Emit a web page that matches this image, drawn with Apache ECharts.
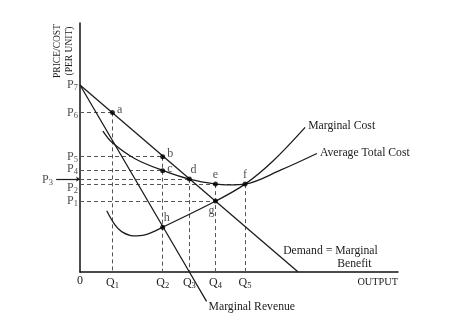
<!DOCTYPE html>
<html>
<head>
<meta charset="utf-8">
<script src="https://cdn.jsdelivr.net/npm/echarts@6/dist/echarts.min.js"></script>
<style>
html,body{margin:0;padding:0;background:#fff;}
#chart{width:455px;height:324px;}
</style>
</head>
<body>
<div id="chart"></div>
<script>
// Quantities Q1..Q5 (output units)
const qValues = [1.02, 2.60, 3.44, 4.26, 5.19];
const qNames = ['1', '2', '3', '4', '5'];
// Prices P1..P7
const pValues = [2.85, 3.53, 3.73, 4.07, 4.63, 6.41, 7.51];
const pNames = ['1', '2', '3', '4', '5', '6', '7'];
const hPrice = 1.80;

// Curves
const demandX = [0, 6.86];
const demandY = [7.51, 0];
const mrX = [0, 3.44, 3.98];
const mrY = [7.51, 0, -1.18];
const atcX = [0.72, 1.02, 1.73, 2.62, 3.44, 4.27, 4.72, 5.19, 6.32, 7.45];
const atcY = [5.66, 5.19, 4.55, 4.07, 3.73, 3.53, 3.50, 3.53, 4.10, 4.76];
const mcX = [0.84, 1.10, 1.31, 1.67, 2.04, 2.60, 4.27, 5.19, 6.07, 7.08];
const mcY = [2.46, 1.89, 1.62, 1.45, 1.49, 1.80, 2.85, 3.53, 4.46, 5.81];

// Labelled points
const pointNames = ['a', 'b', 'c', 'd', 'e', 'f', 'g', 'h'];
const pointQ = [qValues[0], qValues[1], qValues[1], qValues[2], qValues[3], qValues[4], qValues[3], qValues[1]];
const pointP = [pValues[5], pValues[4], pValues[3], pValues[2], pValues[1], pValues[1], pValues[0], hPrice];

const FONT = '"Liberation Serif", "DejaVu Serif", serif';
const INK = '#1c1c1c';
const zip = (xs, ys) => xs.map((x, i) => [x, ys[i]]);

const rich = {
  m: { fontSize: 12, fontFamily: FONT, color: INK },
  s: { fontSize: 8.5, fontFamily: FONT, color: INK, padding: [6, 0, 0, 0] }
};

// dashed guide segments
const pt = name => { const i = pointNames.indexOf(name); return [pointQ[i], pointP[i]]; };
const hGuides = ['a', 'b', 'c', 'd', 'f', 'g'];
const vGuides = ['a', 'b', 'd', 'e', 'f'];
const guideData = [];
hGuides.forEach(n => { const p = pt(n); guideData.push({ coords: [[0, p[1]], p] }); });
vGuides.forEach(n => { const p = pt(n); guideData.push({ coords: [p, [p[0], 0]] }); });

const pointLabelPos = {
  a: { position: 'right', offset: [0, -3] },
  b: { position: 'right', offset: [0, -3] },
  c: { position: 'right', offset: [0, -2] },
  d: { position: 'top', offset: [4, 1] },
  e: { position: 'top', offset: [0, 1] },
  f: { position: 'top', offset: [0, 1] },
  g: { position: 'bottom', offset: [-4, -1] },
  h: { position: 'top', offset: [4, 1] }
};

const priceLabelOffset = { '1': [0, 0], '2': [0, 4], '3': [-25, 1], '4': [0, -2], '5': [0, 0], '6': [0, 0], '7': [0, 0] };

const chart = echarts.init(document.getElementById('chart'));
const curveStyle = { color: INK, width: 1.3 };
const textStyle = { fontFamily: FONT, fontSize: 11.7, color: INK };

chart.setOption({
  animation: false,
  grid: { left: 80, top: 23, right: 57, bottom: 52 },
  xAxis: {
    type: 'value', min: 0, max: 10,
    axisLine: { lineStyle: { color: '#111', width: 1.5 } },
    axisTick: { show: false },
    splitLine: { show: false },
    axisLabel: {
      customValues: [0].concat(qValues),
      margin: 3,
      formatter: v => v === 0 ? '{m|0}' : '{m|Q}{s|' + qNames[qValues.indexOf(v)] + '}',
      rich: rich
    },
    name: 'OUTPUT',
    nameLocation: 'end',
    nameGap: 0,
    nameTextStyle: { fontFamily: FONT, fontSize: 10.3, color: INK, align: 'right', verticalAlign: 'top', padding: [5, 0, 0, 0] }
  },
  yAxis: {
    type: 'value', min: 0, max: 10,
    axisLine: { lineStyle: { color: '#111', width: 1.5 } },
    axisTick: { show: false },
    splitLine: { show: false },
    axisLabel: { show: false }
  },
  graphic: [{
    type: 'text', x: 63, y: 51, rotation: Math.PI / 2,
    style: { text: 'PRICE/COST\n(PER UNIT)', fontFamily: FONT, fontSize: 9.5, lineHeight: 12, align: 'center', verticalAlign: 'middle', fill: INK }
  }],
  series: [
    {
      type: 'lines', coordinateSystem: 'cartesian2d', polyline: false, silent: true,
      lineStyle: { color: '#555', width: 1, type: [4, 3], opacity: 1 },
      data: guideData, z: 1
    },
    {
      type: 'lines', coordinateSystem: 'cartesian2d', silent: true, clip: false,
      symbol: ['none', 'arrow'], symbolSize: 4,
      lineStyle: { color: INK, width: 1.2, opacity: 1 },
      data: [{ coords: [[-0.75, pValues[2]], [0, pValues[2]]] }], z: 2
    },
    {
      name: 'Demand', type: 'line', data: zip(demandX, demandY), showSymbol: false, lineStyle: curveStyle, z: 3,
      endLabel: {
        show: true, distance: 5, offset: [-20, -15], align: 'left',
        formatter: '{a|Demand = Marginal}\n{b|Benefit}',
        rich: {
          a: Object.assign({ lineHeight: 13 }, textStyle),
          b: Object.assign({ lineHeight: 13, padding: [0, 0, 0, 54] }, textStyle)
        }
      }
    },
    {
      name: 'Marginal Revenue', type: 'line', data: zip(mrX, mrY), showSymbol: false, lineStyle: curveStyle, clip: false, z: 3,
      endLabel: Object.assign({ show: true, distance: 2, offset: [0, 6], formatter: 'Marginal Revenue' }, textStyle)
    },
    {
      name: 'Average Total Cost', type: 'line', data: zip(atcX, atcY), smooth: 0.35, showSymbol: false, lineStyle: curveStyle, z: 3,
      endLabel: Object.assign({ show: true, distance: 3, offset: [0, -1], formatter: 'Average Total Cost' }, textStyle)
    },
    {
      name: 'Marginal Cost', type: 'line', data: zip(mcX, mcY), smooth: 0.35, showSymbol: false, lineStyle: curveStyle, z: 3,
      endLabel: Object.assign({ show: true, distance: 3, offset: [0, -1], formatter: 'Marginal Cost' }, textStyle)
    },
    {
      type: 'scatter', symbol: 'circle', symbolSize: 5, itemStyle: { color: '#000' }, z: 5,
      data: pointNames.map((n, i) => ({
        value: [pointQ[i], pointP[i]], name: n,
        label: Object.assign({ show: true, formatter: n, fontFamily: FONT, fontSize: 12, color: INK, distance: 2 }, pointLabelPos[n])
      }))
    },
    {
      type: 'scatter', symbolSize: 0, silent: true, z: 5,
      data: pValues.map((v, i) => ({
        value: [0, v],
        label: { show: true, position: 'left', distance: 2, offset: priceLabelOffset[pNames[i]], formatter: '{m|P}{s|' + pNames[i] + '}', rich: rich }
      }))
    }
  ]
});
</script>
</body>
</html>
